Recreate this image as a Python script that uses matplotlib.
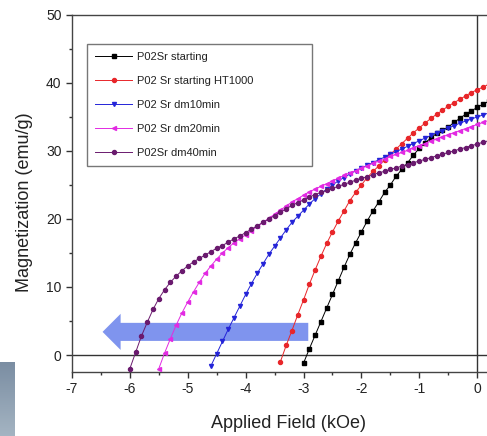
import matplotlib
matplotlib.use("Agg")
import matplotlib.pyplot as plt
import numpy as np
from matplotlib.patches import FancyArrowPatch
from matplotlib.colors import LinearSegmentedColormap

plt.rcParams['font.family'] = ['Liberation Sans', 'DejaVu Sans']

# Demagnetization curves (field in kOe, magnetization in emu/g)
h_start = [-3.0, -2.9, -2.8, -2.7, -2.6, -2.5, -2.4, -2.3, -2.2, -2.1, -2.0, -1.9, -1.8, -1.7,
           -1.6, -1.5, -1.4, -1.3, -1.2, -1.1, -1.0, -0.9, -0.8, -0.7, -0.6, -0.5, -0.4, -0.3,
           -0.2, -0.1, 0.0, 0.1, 0.2]
m_start = [-1.2, 0.9, 2.9, 4.9, 6.9, 8.9, 10.9, 12.9, 14.8, 16.5, 18.1, 19.7, 21.2, 22.5,
           23.9, 25.0, 26.3, 27.3, 28.3, 29.4, 30.4, 31.2, 31.9, 32.6, 33.1, 33.5, 34.2, 34.8,
           35.4, 35.9, 36.4, 36.9, 37.3]

h_ht1000 = [-3.4, -3.3, -3.2, -3.1, -3.0, -2.9, -2.8, -2.7, -2.6, -2.5, -2.4, -2.3, -2.2, -2.1,
            -2.0, -1.9, -1.8, -1.7, -1.6, -1.5, -1.4, -1.3, -1.2, -1.1, -1.0, -0.9, -0.8, -0.7,
            -0.6, -0.5, -0.4, -0.3, -0.2, -0.1, 0.0, 0.1, 0.2]
m_ht1000 = [-1.0, 1.4, 3.6, 5.9, 8.1, 10.4, 12.5, 14.5, 16.4, 18.1, 19.7, 21.2, 22.7, 23.9,
            25.0, 26.1, 27.0, 27.8, 28.7, 29.5, 30.3, 31.1, 31.9, 32.7, 33.4, 34.1, 34.8, 35.4,
            36.0, 36.6, 37.1, 37.6, 38.1, 38.6, 39.0, 39.4, 39.8]

h_dm10 = [-4.6, -4.5, -4.4, -4.3, -4.2, -4.1, -4.0, -3.9, -3.8, -3.7, -3.6, -3.5, -3.4, -3.3,
          -3.2, -3.1, -3.0, -2.9, -2.8, -2.7, -2.6, -2.5, -2.4, -2.3, -2.2, -2.1, -2.0, -1.9,
          -1.8, -1.7, -1.6, -1.5, -1.4, -1.3, -1.2, -1.1, -1.0, -0.9, -0.8, -0.7, -0.6, -0.5,
          -0.4, -0.3, -0.2, -0.1, 0.0, 0.1, 0.2]
m_dm10 = [-1.6, 0.2, 2.0, 3.8, 5.5, 7.2, 8.9, 10.5, 12.0, 13.4, 14.8, 16.0, 17.2, 18.4,
          19.5, 20.4, 21.3, 22.2, 23.0, 23.7, 24.4, 25.0, 25.6, 26.1, 26.6, 27.1, 27.5, 27.9,
          28.3, 28.7, 29.1, 29.5, 29.9, 30.3, 30.7, 31.1, 31.5, 31.9, 32.3, 32.7, 33.0, 33.4,
          33.7, 34.1, 34.4, 34.7, 35.0, 35.3, 35.6]

h_dm20 = [-5.5, -5.4, -5.3, -5.2, -5.1, -5.0, -4.9, -4.8, -4.7, -4.6, -4.5, -4.4, -4.3, -4.2,
          -4.1, -4.0, -3.9, -3.8, -3.7, -3.6, -3.5, -3.4, -3.3, -3.2, -3.1, -3.0, -2.9, -2.8,
          -2.7, -2.6, -2.5, -2.4, -2.3, -2.2, -2.1, -2.0, -1.9, -1.8, -1.7, -1.6, -1.5, -1.4,
          -1.3, -1.2, -1.1, -1.0, -0.9, -0.8, -0.7, -0.6, -0.5, -0.4, -0.3, -0.2, -0.1, 0.0,
          0.1, 0.2]
m_dm20 = [-2.0, 0.3, 2.4, 4.4, 6.2, 7.8, 9.3, 10.7, 12.0, 13.1, 14.1, 15.0, 15.8, 16.5,
          17.1, 17.7, 18.3, 18.9, 19.5, 20.1, 20.7, 21.3, 21.9, 22.5, 23.0, 23.5, 24.0, 24.4,
          24.8, 25.2, 25.6, 26.0, 26.4, 26.8, 27.1, 27.5, 27.8, 28.2, 28.5, 28.8, 29.2, 29.5,
          29.8, 30.1, 30.5, 30.8, 31.1, 31.5, 31.8, 32.1, 32.4, 32.7, 33.0, 33.3, 33.6, 33.9,
          34.2, 34.5]

h_dm40 = [-6.0, -5.9, -5.8, -5.7, -5.6, -5.5, -5.4, -5.3, -5.2, -5.1, -5.0, -4.9, -4.8, -4.7,
          -4.6, -4.5, -4.4, -4.3, -4.2, -4.1, -4.0, -3.9, -3.8, -3.7, -3.6, -3.5, -3.4, -3.3,
          -3.2, -3.1, -3.0, -2.9, -2.8, -2.7, -2.6, -2.5, -2.4, -2.3, -2.2, -2.1, -2.0, -1.9,
          -1.8, -1.7, -1.6, -1.5, -1.4, -1.3, -1.2, -1.1, -1.0, -0.9, -0.8, -0.7, -0.6, -0.5,
          -0.4, -0.3, -0.2, -0.1, 0.0, 0.1, 0.2]
m_dm40 = [-2.0, 0.4, 2.8, 4.8, 6.7, 8.3, 9.6, 10.7, 11.6, 12.4, 13.1, 13.7, 14.2, 14.7,
          15.2, 15.7, 16.1, 16.6, 17.1, 17.5, 18.0, 18.5, 19.0, 19.5, 20.0, 20.5, 21.0, 21.5,
          22.0, 22.4, 22.8, 23.2, 23.6, 23.9, 24.2, 24.5, 24.8, 25.1, 25.4, 25.7, 26.0, 26.2,
          26.5, 26.8, 27.0, 27.3, 27.5, 27.8, 28.0, 28.3, 28.5, 28.8, 29.0, 29.3, 29.5, 29.8,
          30.0, 30.3, 30.5, 30.8, 31.0, 31.3, 31.5]

labels = ["P02Sr starting", "P02 Sr starting HT1000", "P02 Sr dm10min",
          "P02 Sr dm20min", "P02Sr dm40min"]
colors = ["#000000", "#e8262a", "#2424d8", "#e22ae2", "#6a1a6e"]
markers = ["s", "o", "v", "<", "o"]
series = [(h_start, m_start), (h_ht1000, m_ht1000), (h_dm10, m_dm10),
          (h_dm20, m_dm20), (h_dm40, m_dm40)]

fig = plt.figure(figsize=(4.87, 4.36), dpi=100)
ax = fig.add_axes([72 / 487, 1 - 372 / 436, 415 / 487, 357 / 436])

# Shift arrow indicating the decrease of coercivity
arrow = FancyArrowPatch((-2.87, 3.4), (-6.52, 3.4),
                        arrowstyle="simple,head_length=13,head_width=26,tail_width=13",
                        mutation_scale=1, color="#7f94ee", lw=0, zorder=1)
ax.add_patch(arrow)

ax.axhline(0, color="#333333", lw=1.0, zorder=1.5)
ax.axvline(0, color="#333333", lw=1.0, zorder=1.5)

for (h, m), lab, c, mk in zip(series, labels, colors, markers):
    ax.plot(h, m, color=c, lw=0.7, marker=mk, ms=2.9, mec=c, mfc=c, label=lab, zorder=3)

ax.set_xlim(-7, 0.17)
ax.set_ylim(-2.5, 50)
ax.set_xticks(np.arange(-7, 1, 1))
ax.set_xticks(np.arange(-6.5, 0.5, 1), minor=True)
ax.set_yticks(np.arange(0, 51, 10))
ax.set_yticks(np.arange(5, 50, 10), minor=True)
ax.set_xticklabels(["-7", "-6", "-5", "-4", "-3", "-2", "-1", "0"])
ax.tick_params(axis="both", which="major", direction="out", length=4, width=1,
               labelsize=10, color="#333333", labelcolor="#222222")
ax.tick_params(axis="both", which="minor", direction="out", length=2.5, width=1,
               color="#333333")
ax.spines["right"].set_visible(False)
for s in ["left", "top", "bottom"]:
    ax.spines[s].set_color("#444444")
    ax.spines[s].set_linewidth(1.0)

ax.set_xlabel("Applied Field (kOe)", fontsize=13, color="#222222")
ax.set_ylabel("Magnetization (emu/g)", fontsize=13, color="#222222")
ax.xaxis.set_label_coords((288.5 - 72) / 415, (372 - 415) / 357)
ax.yaxis.set_label_coords((33 - 72) / 415, (372 - 202) / 357)

leg = ax.legend(loc="upper left", bbox_to_anchor=(15 / 415, 1 - 29 / 357, 225 / 415, 0.0),
                mode="expand", fontsize=8, handlelength=3.3, handletextpad=0.45,
                labelspacing=1.25, borderpad=0.75, frameon=True, fancybox=False,
                markerscale=1.0, borderaxespad=0)
leg.get_frame().set_edgecolor("#555555")
leg.get_frame().set_linewidth(1.0)
for txt in leg.get_texts():
    txt.set_color("#222222")

# Fragment of a neighbouring panel at the lower-left edge
gax = fig.add_axes([0, 0, 15 / 487, 74 / 436])
grad = np.linspace(0, 1, 64).reshape(-1, 1)
cmap = LinearSegmentedColormap.from_list("edge", ["#7a8da2", "#a4b4c2"])
gax.imshow(grad, aspect="auto", cmap=cmap, origin="upper")
gax.axis("off")

fig.savefig("out.png", dpi=100)
